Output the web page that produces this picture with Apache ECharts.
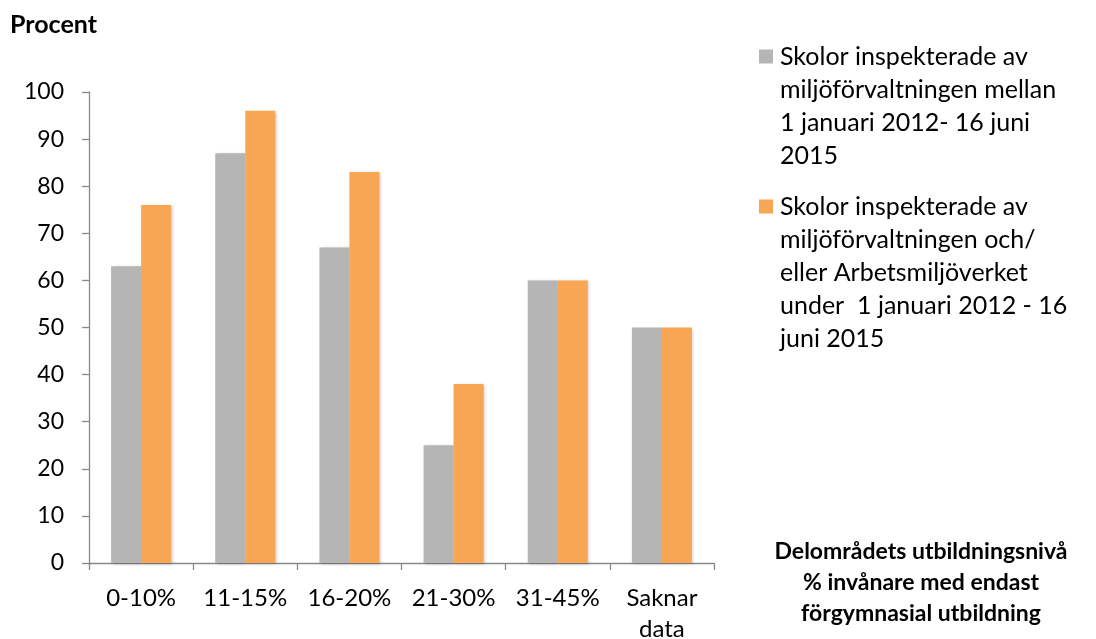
<!DOCTYPE html>
<html>
<head>
<meta charset="utf-8">
<script src="https://cdn.jsdelivr.net/npm/echarts@6/dist/echarts.min.js"></script>
<style>html,body{margin:0;padding:0;background:#fff}#c{width:1096px;height:639px}</style>
</head>
<body>
<div id="c"></div>
<script>
var categories = ['0-10%', '11-15%', '16-20%', '21-30%', '31-45%', 'Saknar\ndata'];
var seriesNames = [
  'Skolor inspekterade av\nmiljöförvaltningen mellan\n1 januari 2012- 16 juni\n2015',
  'Skolor inspekterade av\nmiljöförvaltningen och/\neller Arbetsmiljöverket\nunder  1 januari 2012 - 16\njuni 2015'
];
var grayValues = [63, 87, 67, 25, 60, 50];
var orangeValues = [76, 96, 83, 38, 60, 50];
var yTicks = [0, 10, 20, 30, 40, 50, 60, 70, 80, 90, 100];

var FONT = 'Lato';
var LH = 33;
function iconPath(n) {
  var h = n * LH;
  var t = LH / 2 - 7;
  return 'path://M0,0h14M0,' + h + 'h14M0,' + t + 'h14v14h-14z';
}
function lines(s) { return s.split('\n').length; }

var chart = echarts.init(document.getElementById('c'), null, {renderer: 'canvas'});
chart.setOption({
  animation: false,
  textStyle: {fontFamily: FONT},
  title: [
    {text: 'Procent', left: 10, top: 12, padding: 0,
     textStyle: {fontFamily: FONT, fontSize: 25, fontWeight: 'bold', color: '#000', lineHeight: 26}},
    {text: 'Delområdets utbildningsnivå\n% invånare med endast\nförgymnasial utbildning',
     left: 921, top: 536, padding: 0, textAlign: 'center',
     textStyle: {fontFamily: FONT, fontSize: 23, fontWeight: 'bold', color: '#000', lineHeight: 31}}
  ],
  legend: [
    {left: 759, top: 40, padding: 0, orient: 'vertical', selectedMode: false,
     itemWidth: 14, itemHeight: lines(seriesNames[0]) * LH,
     data: [{name: seriesNames[0], icon: iconPath(lines(seriesNames[0]))}],
     textStyle: {fontFamily: FONT, fontSize: 25, color: '#000', lineHeight: LH, padding: [0, 0, 0, 2]}},
    {left: 759, top: 190, padding: 0, orient: 'vertical', selectedMode: false,
     itemWidth: 14, itemHeight: lines(seriesNames[1]) * LH,
     data: [{name: seriesNames[1], icon: iconPath(lines(seriesNames[1]))}],
     textStyle: {fontFamily: FONT, fontSize: 25, color: '#000', lineHeight: LH, padding: [0, 0, 0, 2]}}
  ],
  grid: {left: 89, right: 382, top: 92, bottom: 76, containLabel: false, outerBoundsMode: 'none'},
  xAxis: {
    type: 'category', data: categories,
    axisLine: {show: true, lineStyle: {color: '#898989', width: 1.3}},
    axisTick: {show: true, length: 7, lineStyle: {color: '#898989', width: 1.3}},
    axisLabel: {fontFamily: FONT, fontSize: 24, color: '#000', lineHeight: 31, margin: 20, interval: 0},
    splitLine: {show: false}
  },
  yAxis: {
    type: 'value', min: yTicks[0], max: yTicks[yTicks.length - 1], interval: yTicks[1] - yTicks[0],
    axisLine: {show: true, lineStyle: {color: '#898989', width: 1.3}},
    axisTick: {show: true, length: 7, lineStyle: {color: '#898989', width: 1.3}},
    axisLabel: {fontFamily: FONT, fontSize: 23, color: '#000', margin: 25},
    splitLine: {show: false}
  },
  series: [
    {name: seriesNames[0], type: 'bar', data: grayValues, barWidth: 30, barGap: '0%',
     itemStyle: {color: '#b5b5b5', shadowColor: 'rgba(0,0,0,0.22)', shadowBlur: 3, shadowOffsetX: 1.5, shadowOffsetY: 1}},
    {name: seriesNames[1], type: 'bar', data: orangeValues, barWidth: 30, barGap: '0%',
     itemStyle: {color: '#f9a654', shadowColor: 'rgba(0,0,0,0.22)', shadowBlur: 3, shadowOffsetX: 1.5, shadowOffsetY: 1}}
  ]
});
</script>
</body>
</html>
